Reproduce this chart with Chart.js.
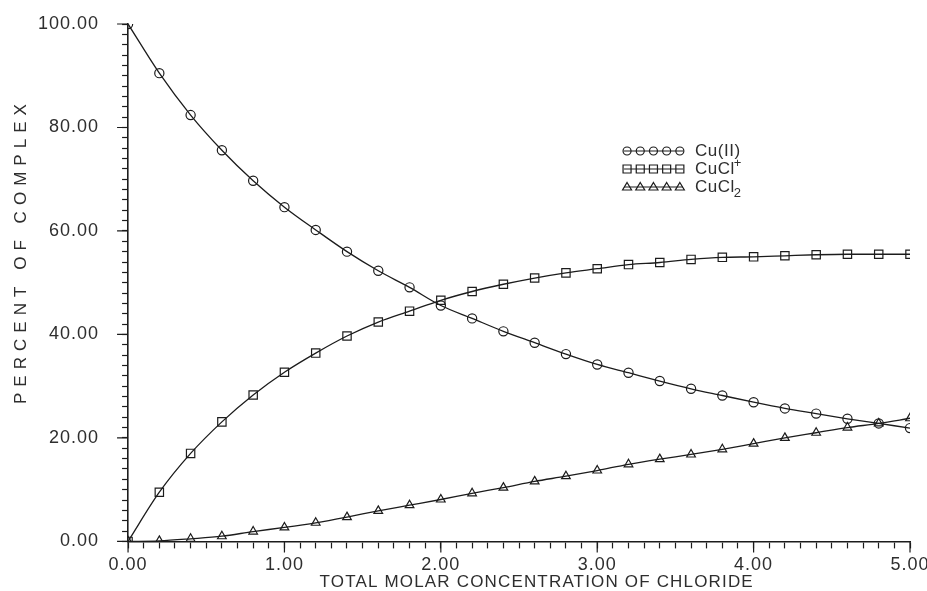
<!DOCTYPE html>
<html>
<head>
<meta charset="utf-8">
<title>Percent of complex vs total chloride</title>
<script src="https://cdn.jsdelivr.net/npm/chart.js@4.4.1/dist/chart.umd.min.js"></script>
<style>
  html, body { margin: 0; padding: 0; background: #fff; }
  #wrap { width: 927px; height: 591px; }
</style>
</head>
<body>
<div id="wrap"><canvas id="chart" width="927" height="591"></canvas></div>
<script>
// total molar concentration of chloride (M)
const chlorideM = [0.0, 0.2, 0.4, 0.6, 0.8, 1.0, 1.2, 1.4, 1.6, 1.8, 2.0, 2.2, 2.4,
                   2.6, 2.8, 3.0, 3.2, 3.4, 3.6, 3.8, 4.0, 4.2, 4.4, 4.6, 4.8, 5.0];
// percent of complex
const cuII  = [100.0, 90.5, 82.4, 75.6, 69.7, 64.6, 60.2, 56.0, 52.3, 49.1, 45.6, 43.1, 40.6,
               38.4, 36.2, 34.2, 32.6, 31.0, 29.5, 28.2, 26.9, 25.7, 24.7, 23.7, 22.8, 21.9];
const cuCl  = [0.0, 9.5, 17.0, 23.1, 28.3, 32.7, 36.4, 39.7, 42.4, 44.5, 46.6, 48.3, 49.7,
               50.9, 51.9, 52.7, 53.5, 53.9, 54.5, 54.9, 55.0, 55.2, 55.4, 55.5, 55.5, 55.5];
const cuCl2 = [0.0, 0.1, 0.5, 1.0, 1.9, 2.7, 3.6, 4.7, 5.9, 7.0, 8.1, 9.3, 10.4,
               11.6, 12.6, 13.7, 14.9, 15.9, 16.8, 17.8, 18.9, 20.0, 21.0, 22.0, 22.8, 23.8];

const seriesNames = ["Cu(II)", "CuCl+", "CuCl2"];
const xTitle = "TOTAL MOLAR CONCENTRATION OF CHLORIDE";
const yTitle = "PERCENT OF COMPLEX";

const INK = "#1c1c1c";
const TXT = "#2e2e2e";
const FONT = "'Liberation Sans', Arial, sans-serif";

const isWhole = (v, step) => Math.abs(v / step - Math.round(v / step)) < 1e-6;
const toPts = (ys) => chlorideM.map((x, i) => ({ x, y: ys[i] }));

// legend rows: base text plus optional super/subscript
const legendRows = [
  { style: "circle",   base: "Cu(II)" },
  { style: "rect",     base: "CuCl", sup: "+" },
  { style: "triangle", base: "CuCl", sub: "2" },
];

function drawMarker(ctx, style, x, y) {
  ctx.beginPath();
  if (style === "circle") ctx.arc(x, y, 4, 0, Math.PI * 2);
  else if (style === "rect") ctx.rect(x - 4, y - 4, 8, 8);
  else { ctx.moveTo(x, y - 4.5); ctx.lineTo(x + 4.5, y + 3); ctx.lineTo(x - 4.5, y + 3); ctx.closePath(); }
  ctx.stroke();
}

function spacedText(ctx, text, cx, cy, span) {
  ctx.letterSpacing = "0px";
  const w = ctx.measureText(text).width;
  const gap = Math.max(0, (span - w) / (text.length - 1));
  ctx.letterSpacing = gap.toFixed(2) + "px";
  ctx.textAlign = "left";
  ctx.textBaseline = "middle";
  ctx.fillText(text, cx - span / 2, cy);
}

// plotter-style text is a bit wider than Liberation
const spacing = {
  id: "spacing",
  beforeLayout(chart) { chart.ctx.letterSpacing = "1px"; },
  beforeDraw(chart) { chart.ctx.letterSpacing = "1px"; },
};

// longer marks at labelled ticks
const majorTicks = {
  id: "majorTicks",
  afterDraw(chart) {
    const { ctx, scales: { x, y } } = chart;
    ctx.save();
    ctx.strokeStyle = INK;
    ctx.lineWidth = 1.2;
    ctx.beginPath();
    x.ticks.forEach(t => {
      if (!isWhole(t.value, 1)) return;
      const px = x.getPixelForValue(t.value);
      ctx.moveTo(px, x.top);
      ctx.lineTo(px, x.top + 11);
    });
    y.ticks.forEach(t => {
      if (!isWhole(t.value, 20)) return;
      const py = y.getPixelForValue(t.value);
      ctx.moveTo(y.right, py);
      ctx.lineTo(y.right - 11, py);
    });
    ctx.stroke();
    ctx.restore();
  }
};

const titlesAndLegend = {
  id: "titlesAndLegend",
  afterDraw(chart) {
    const { ctx, chartArea: a } = chart;
    ctx.save();
    ctx.fillStyle = TXT;
    ctx.font = "17px " + FONT;
    spacedText(ctx, xTitle, (a.left + a.right) / 2 + 17, a.bottom + 41, 433);
    ctx.save();
    ctx.translate(21, a.top + 230);
    ctx.rotate(-Math.PI / 2);
    spacedText(ctx, yTitle, 0, 0, 300);
    ctx.restore();

    // legend
    const lx = a.left + 499, ly = a.top + 127;
    ctx.strokeStyle = INK;
    ctx.lineWidth = 1.2;
    legendRows.forEach((r, i) => {
      const y = ly + i * 18;
      ctx.beginPath();
      ctx.moveTo(lx - 3, y);
      ctx.lineTo(lx + 56, y);
      ctx.stroke();
      for (let k = 0; k < 5; k++) drawMarker(ctx, r.style, lx + k * 13.2, y);
      ctx.letterSpacing = "0.5px";
      ctx.textAlign = "left";
      ctx.textBaseline = "middle";
      ctx.font = "17px " + FONT;
      ctx.fillText(r.base, lx + 68, y);
      const w = ctx.measureText(r.base).width;
      ctx.font = "13px " + FONT;
      if (r.sup) ctx.fillText(r.sup, lx + 68 + w - 1, y - 6);
      if (r.sub) ctx.fillText(r.sub, lx + 68 + w - 1, y + 6);
    });
    ctx.restore();
  }
};

const mk = (label, data, style, r) => ({
  label, data: toPts(data),
  borderColor: INK, borderWidth: 1.3,
  pointStyle: style, pointRadius: r, pointBorderWidth: 1.2,
  pointBorderColor: INK, pointBackgroundColor: "rgba(0,0,0,0)",
  cubicInterpolationMode: "monotone", fill: false,
});

new Chart(document.getElementById("chart").getContext("2d"), {
  type: "line",
  data: {
    datasets: [
      mk(seriesNames[0], cuII, "circle", 4.6),
      mk(seriesNames[1], cuCl, "rect", 5.9),
      mk(seriesNames[2], cuCl2, "triangle", 5),
    ],
  },
  options: {
    responsive: false,
    animation: false,
    devicePixelRatio: 1,
    layout: { padding: { top: 24, left: 15, right: 0, bottom: 9 } },
    plugins: { legend: { display: false }, tooltip: { enabled: false } },
    scales: {
      x: {
        type: "linear", min: 0, max: 5,
        border: { display: true, color: INK, width: 1.6 },
        grid: { drawOnChartArea: false, drawTicks: true, tickLength: 7, color: INK, tickWidth: 1.2 },
        ticks: {
          stepSize: 0.1, autoSkip: false, maxRotation: 0, padding: 6, color: TXT,
          font: { family: FONT, size: 18 },
          callback: (v) => isWhole(v, 1) ? v.toFixed(2) : "",
        },
        afterFit: (s) => { s.paddingRight = 17; },
      },
      y: {
        type: "linear", min: 0, max: 100,
        border: { display: true, color: INK, width: 1.6 },
        grid: { drawOnChartArea: false, drawTicks: true, tickLength: 6, color: INK, tickWidth: 1.2 },
        ticks: {
          stepSize: 2, autoSkip: false, padding: 23, color: TXT,
          font: { family: FONT, size: 18 },
          callback: (v) => isWhole(v, 20) ? v.toFixed(2) : "",
        },
        afterFit: (s) => { s.paddingTop = 0; s.paddingBottom = 0; },
      },
    },
  },
  plugins: [spacing, majorTicks, titlesAndLegend],
});
</script>
</body>
</html>
